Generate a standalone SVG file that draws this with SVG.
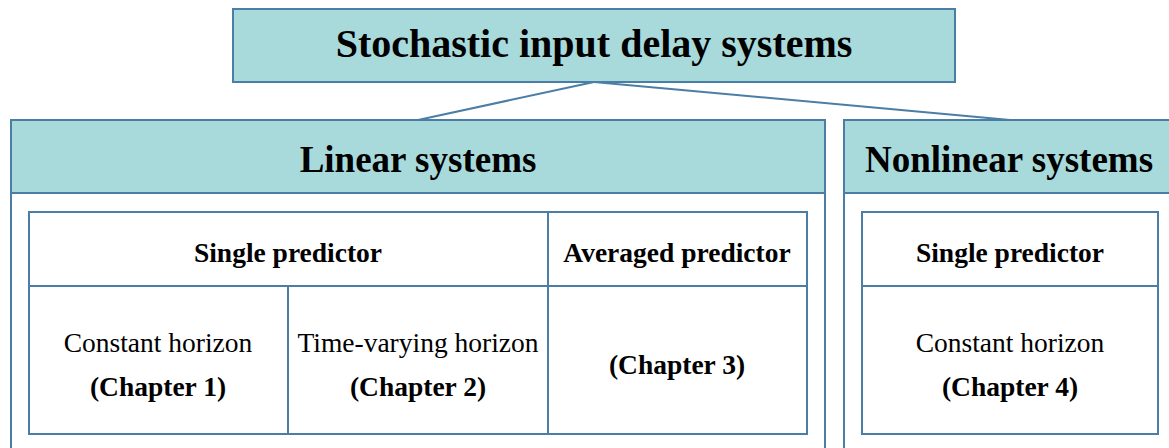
<svg xmlns="http://www.w3.org/2000/svg" width="1169" height="448" viewBox="0 0 1169 448">
<style>
.hdr{fill:#A8DADB;stroke:#4A7EA6;stroke-width:2}
.box{fill:#FFFFFF;stroke:#4A7EA6;stroke-width:2}
.ln{stroke:#4A7EA6;stroke-width:2;fill:none}
text{font-family:"Liberation Serif","Times New Roman",serif;fill:#000;text-anchor:middle}
.t1{font-size:40px;font-weight:bold}
.t2{font-size:37px;font-weight:bold}
.b{font-size:27.5px;font-weight:bold}
.r{font-size:27.5px}
</style>
<rect width="1169" height="448" fill="#FFFFFF"/>
<g id="connectors">
<line class="ln" x1="594" y1="82" x2="418" y2="120"/>
<line class="ln" x1="594" y1="82" x2="1010" y2="120"/>
</g>
<g id="root">
<rect class="hdr" x="233" y="9" width="722" height="73"/>
<text class="t1" x="594" y="57">Stochastic input delay systems</text>
</g>
<g id="linear">
<rect class="box" x="11" y="120" width="814" height="340"/>
<rect class="hdr" x="11" y="120" width="814" height="73"/>
<text class="t2" x="418" y="172">Linear systems</text>
<rect class="box" x="29" y="212" width="778" height="222"/>
<line class="ln" x1="29" y1="286" x2="807" y2="286"/>
<line class="ln" x1="548" y1="212" x2="548" y2="434"/>
<line class="ln" x1="288" y1="286" x2="288" y2="434"/>
</g>
<g id="single-linear">
<text class="b" x="288" y="262">Single predictor</text>
</g>
<g id="averaged">
<text class="b" x="677" y="262">Averaged predictor</text>
</g>
<g id="ch1">
<text class="r" x="158" y="352">Constant horizon</text>
<text class="b" x="158" y="396">(Chapter 1)</text>
</g>
<g id="ch2">
<text class="r" x="418" y="352">Time-varying horizon</text>
<text class="b" x="418" y="396">(Chapter 2)</text>
</g>
<g id="ch3">
<text class="b" x="677" y="374">(Chapter 3)</text>
</g>
<g id="nonlinear">
<rect class="box" x="844" y="120" width="340" height="340"/>
<rect class="hdr" x="844" y="120" width="340" height="73"/>
<text class="t2" x="1009" y="172">Nonlinear systems</text>
<rect class="box" x="862" y="212" width="296" height="222"/>
<line class="ln" x1="862" y1="286" x2="1158" y2="286"/>
</g>
<g id="single-nonlinear">
<text class="b" x="1010" y="262">Single predictor</text>
</g>
<g id="ch4">
<text class="r" x="1010" y="352">Constant horizon</text>
<text class="b" x="1010" y="396">(Chapter 4)</text>
</g>
</svg>
